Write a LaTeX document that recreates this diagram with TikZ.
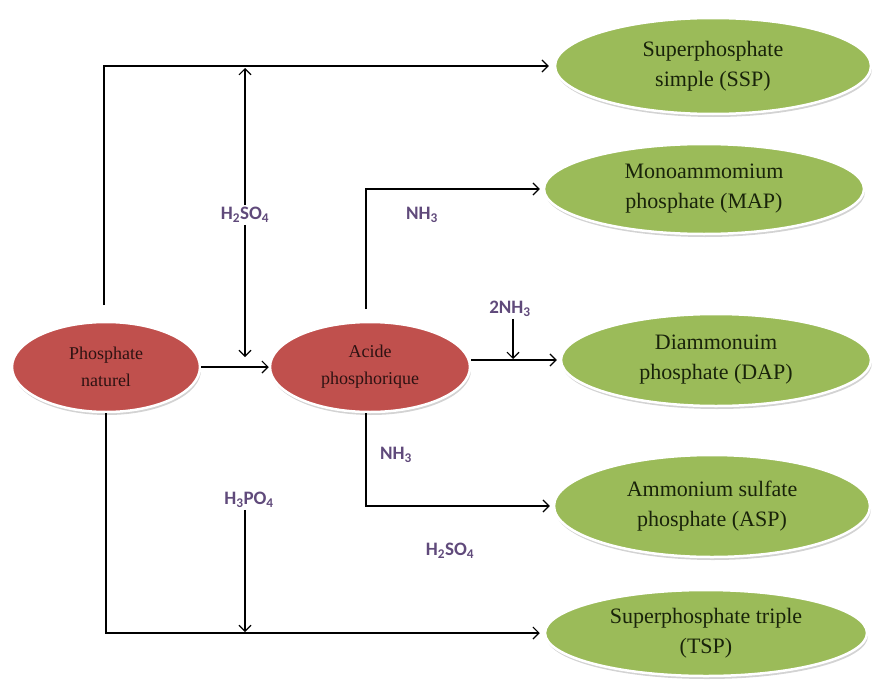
\documentclass[tikz,border=0pt]{standalone}
\usepackage{fontspec}
\setmainfont{Liberation Serif}
\newfontfamily\labfont{Carlito}
\usetikzlibrary{arrows.meta,shapes.geometric,shadows,calc}
\definecolor{redfill}{RGB}{192,80,77}
\definecolor{greenfill}{RGB}{155,187,89}
\definecolor{redtext}{RGB}{45,18,18}
\definecolor{greentext}{RGB}{25,35,10}
\definecolor{labcol}{RGB}{96,74,123}
\tikzset{
  blob/.style={ellipse, inner sep=0pt, draw=white, line width=2.5pt, align=center,
    drop shadow={shadow xshift=1pt, shadow yshift=-3pt, opacity=0.35, fill=gray}},
  redblob/.style={blob, fill=redfill, text=redtext, font=\fontsize{18}{27}\selectfont},
  greenblob/.style={blob, fill=greenfill, text=greentext, font=\fontsize{22}{30}\selectfont},
  chem/.style={font=\labfont\bfseries\fontsize{19}{22}\selectfont, text=labcol, inner sep=2pt},
  chemw/.style={chem, fill=white},
  conn/.style={line width=1.1pt, draw=black},
  arr/.style={conn, -{Straight Barb[length=6pt,width=12pt,line width=1.1pt]}},
}
\begin{document}
\begin{tikzpicture}[x=1pt,y=-1pt]
\useasboundingbox (0,0) rectangle (872,693);
% main nodes
\node[redblob, minimum width=188pt, minimum height=90pt] (pn) at (106,367) {Phosphate\\naturel};
\node[redblob, minimum width=200pt, minimum height=90pt] (ap) at (370,367) {Acide\\phosphorique};
\node[greenblob, minimum width=316pt, minimum height=96pt] (ssp) at (713,66) {Superphosphate\\simple (SSP)};
\node[greenblob, minimum width=320pt, minimum height=90pt] (map) at (704,189) {Monoammomium\\phosphate (MAP)};
\node[greenblob, minimum width=310pt, minimum height=92pt] (dap) at (716,360) {Diammonuim\\phosphate (DAP)};
\node[greenblob, minimum width=316pt, minimum height=102pt] (asp) at (712,506) {Ammonium sulfate\\phosphate (ASP)};
\node[greenblob, minimum width=322pt, minimum height=86pt] (tsp) at (706,633) {Superphosphate triple\\(TSP)};
% labels
\node[chemw] (l1) at (245,215) {H\textsubscript{2}SO\textsubscript{4}};
\node[chem] (l2) at (422,215) {NH\textsubscript{3}};
\node[chem] (l3) at (510,309) {2NH\textsubscript{3}};
\node[chem] (l4) at (396,455) {NH\textsubscript{3}};
\node[chem] (l5) at (249,500) {H\textsubscript{3}PO\textsubscript{4}};
\node[chem] (l6) at (450,551) {H\textsubscript{2}SO\textsubscript{4}};
% coordinates
\coordinate (pntop) at (104,305);
\coordinate (h1top) at (245,68);
\coordinate (h1bot) at (245,357);
\coordinate (aptop) at (366,309);
\coordinate (apbot) at (366,413);
\coordinate (n2end) at (513,359);
\coordinate (h3end) at (245,632);
% connectors
\draw[arr] (pntop) |- ([xshift=-5pt]ssp.west);
\draw[arr] (l1) -- (h1top);
\draw[arr] (l1) -- (h1bot);
\draw[arr] (pn.east) -- (ap.west);
\draw[arr] (aptop) |- ([xshift=-3pt]map.west);
\draw[arr] (ap.east |- dap.west) -- ([xshift=-3pt]dap.west);
\draw[arr] (l3.south -| n2end) -- (n2end);
\draw[arr] (apbot) |- ([xshift=-3pt]asp.west);
\draw[arr] (pn.south) |- ([xshift=-4pt]tsp.west);
\draw[arr] (l5.south -| h3end) -- (h3end);
\end{tikzpicture}
\end{document}
